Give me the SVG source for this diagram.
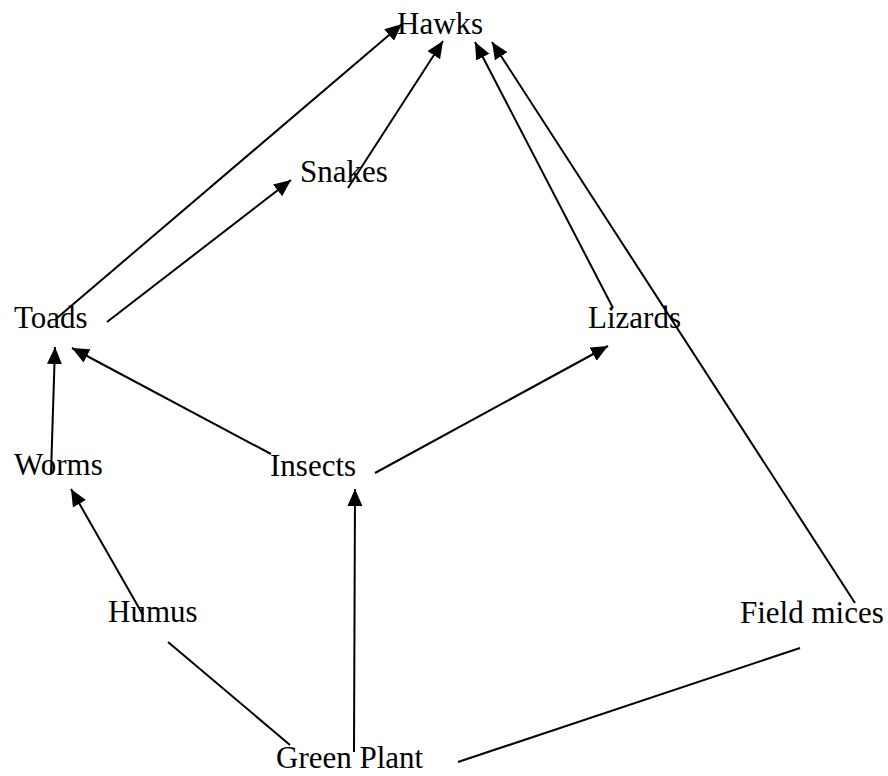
<svg xmlns="http://www.w3.org/2000/svg" width="888" height="776" viewBox="0 0 888 776">
<style>
text{font-family:"Liberation Serif","Times New Roman",serif;font-size:31px;fill:#000}
.c line{stroke:#000;stroke-width:2;fill:none}
.a{marker-end:url(#ah)}
</style>
<defs>
<marker id="ah" markerUnits="userSpaceOnUse" markerWidth="18" markerHeight="16" refX="17" refY="7.5" orient="auto">
<path d="M0,0 L17,7.5 L0,15 Z" fill="#000"/>
</marker>
</defs>
<rect width="888" height="776" fill="#fff"/>
<g id="hawks"><text x="397" y="34">Hawks</text></g>
<g id="snakes"><text x="300" y="182">Snakes</text></g>
<g id="toads"><text x="14" y="328">Toads</text></g>
<g id="lizards"><text x="588" y="328">Lizards</text></g>
<g id="worms"><text x="14" y="475">Worms</text></g>
<g id="insects"><text x="270" y="476">Insects</text></g>
<g id="humus"><text x="108" y="622">Humus</text></g>
<g id="fieldmices"><text x="740" y="623">Field mices</text></g>
<g id="greenplant"><text x="276" y="768">Green Plant</text></g>
<g class="c" id="connectors">
<line class="a" x1="57" y1="318" x2="402" y2="24"/>
<line class="a" x1="107" y1="322" x2="291" y2="180"/>
<line class="a" x1="348" y1="188" x2="443" y2="41"/>
<line class="a" x1="613" y1="308" x2="475" y2="42"/>
<line class="a" x1="855" y1="603" x2="492" y2="42"/>
<line class="a" x1="51" y1="473" x2="55" y2="347"/>
<line class="a" x1="271" y1="454" x2="72" y2="348"/>
<line class="a" x1="375" y1="473" x2="608" y2="346"/>
<line class="a" x1="143" y1="615" x2="71" y2="489"/>
<line class="a" x1="354" y1="752" x2="355" y2="489"/>
<line x1="168" y1="642" x2="290" y2="745"/>
<line x1="458" y1="762" x2="800" y2="648"/>
</g>
</svg>
